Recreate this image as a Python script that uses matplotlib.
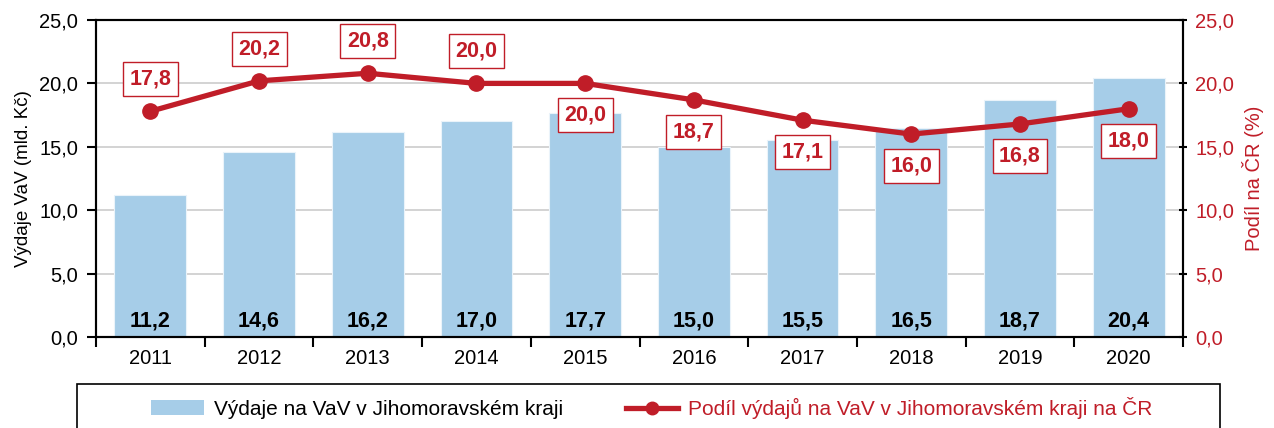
import matplotlib.pyplot as plt
from matplotlib.patches import Rectangle
from matplotlib.lines import Line2D
from matplotlib.patches import Patch

plt.rcParams['font.family'] = ['Liberation Sans', 'DejaVu Sans']

years = ['2011', '2012', '2013', '2014', '2015', '2016', '2017', '2018', '2019', '2020']
vydaje = [11.2, 14.6, 16.2, 17.0, 17.7, 15.0, 15.5, 16.5, 18.7, 20.4]
podil = [17.8, 20.2, 20.8, 20.0, 20.0, 18.7, 17.1, 16.0, 16.8, 18.0]
# label above (1) or below (-1) the point
label_side = [1, 1, 1, 1, -1, -1, -1, -1, -1, -1]

bar_color = '#a6cde8'
red = '#c01d28'

fig = plt.figure(figsize=(12.74, 4.28), dpi=100)
ax = fig.add_axes([96 / 1274, 1 - 337 / 428, (1183 - 96) / 1274, (337 - 20) / 428])
ax2 = ax.twinx()

x = list(range(len(years)))
ax.bar(x, vydaje, width=0.66, color=bar_color, edgecolor='#eaf3fa', linewidth=0.8, zorder=2)
for i, v in enumerate(vydaje):
    ax.text(i, 1.3, f'{v:.1f}'.replace('.', ','), ha='center', va='center',
            fontsize=15.5, fontweight='bold', color='black', zorder=3)

ticks = [0, 5, 10, 15, 20, 25]
tick_lbl = [f'{t:.1f}'.replace('.', ',') for t in ticks]

ax.set_xlim(-0.5, len(years) - 0.5)
ax.set_ylim(0, 25)
ax.set_yticks(ticks)
ax.set_yticklabels(tick_lbl, fontsize=14.5)
ax.yaxis.grid(True, color='#cccccc', linewidth=1.2, zorder=0)
ax.set_axisbelow(True)
ax.set_xticks(x)
ax.set_xticklabels(years, fontsize=14.5)
ax.tick_params(axis='x', which='major', length=0, pad=9)
ax.set_xticks([i + 0.5 for i in range(-1, len(years))], minor=True)
ax.tick_params(axis='x', which='minor', length=7, width=1.5, direction='out')
ax.tick_params(axis='y', length=6.5, width=1.5, direction='out', pad=6.5)
ax.set_ylabel('Výdaje VaV (mld. Kč)', fontsize=13.5)
ax.yaxis.set_label_coords(-0.059, 0.5)
for s in ax.spines.values():
    s.set_linewidth(1.5)

ax2.plot(x, podil, color=red, linewidth=3.8, marker='o', markersize=11, zorder=5)
ax2.set_ylim(0, 25)
ax2.set_yticks(ticks)
ax2.set_yticklabels(tick_lbl, fontsize=14.5, color=red)
ax2.tick_params(axis='y', length=6, width=1.5, direction='inout', pad=6)
ax2.set_ylabel('Podíl na ČR (%)', fontsize=14.5, color=red)
ax2.yaxis.set_label_coords(1.054, 0.5)
for s in ax2.spines.values():
    s.set_linewidth(1.5)

for i, (v, side) in enumerate(zip(podil, label_side)):
    ax2.annotate(f'{v:.1f}'.replace('.', ','), (i, v), xytext=(0, 32 * side),
                 textcoords='offset pixels',
                 ha='center', va='center', fontsize=15.5, fontweight='bold', color=red,
                 bbox=dict(boxstyle='square,pad=0.3', facecolor='white', edgecolor=red, linewidth=1),
                 zorder=6)

# legend frame, cut off at the bottom edge
fig.patches.append(Rectangle((77 / 1274, -0.1), (1220 - 77) / 1274, 0.1 + (428 - 384) / 428,
                             transform=fig.transFigure, facecolor='white', edgecolor='black',
                             linewidth=1.2, figure=fig))
handles = [Patch(facecolor=bar_color, edgecolor='none'),
           Line2D([0], [0], color=red, linewidth=3.8, marker='o', markersize=9)]
leg = fig.legend(handles, ['Výdaje na VaV v Jihomoravském kraji',
                           'Podíl výdajů na VaV v Jihomoravském kraji na ČR'],
                 loc='center', bbox_to_anchor=(652 / 1274, 1 - 408 / 428), ncol=2,
                 frameon=False, fontsize=15, columnspacing=3.0, handlelength=2.5,
                 handletextpad=0.5)
leg.get_texts()[1].set_color(red)

fig.savefig('out.png', dpi=100)
